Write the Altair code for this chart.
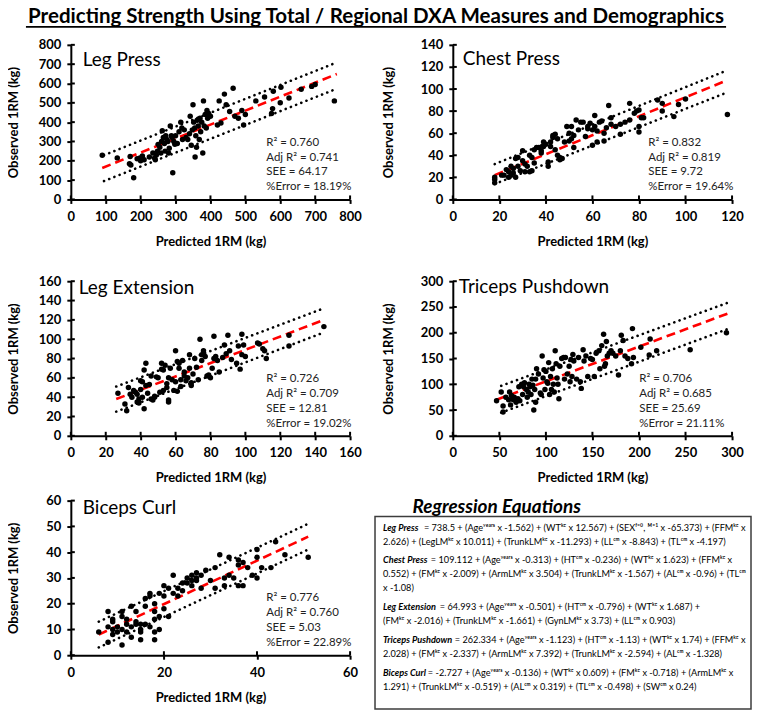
import altair as alt
import pandas as pd

FONT = "Lato"
TITLE = "Predicting Strength Using Total / Regional DXA Measures and Demographics"

# ---------------- Leg Press ----------------
lp_pred = [90,133,170,168,172,180,190,198,200,205,210,225,235,240,242,245,248,250,255,258,260,262,265,268,270,272,275,278,280,282,285,288,290,292,295,298,300,305,310,315,318,320,325,330,335,340,342,345,348,350,352,355,356,358,360,362,365,368,370,372,375,378,380,382,385,388,390,392,395,400,420,425,430,440,445,455,465,470,480,490,495,500,530,555,575,578,580,600,602,625,660,690,700,755]
lp_obs = [229,215,222,185,178,112,210,215,200,225,205,220,240,215,205,230,250,285,270,240,300,355,320,290,250,330,310,300,240,265,380,330,320,138,300,285,330,290,350,400,370,310,360,320,310,340,430,280,360,490,400,370,220,330,270,410,380,310,420,350,400,240,510,380,440,370,460,420,445,430,385,510,395,545,490,455,575,430,420,460,385,440,510,530,445,470,560,500,580,525,570,585,595,510]
lp_line_x = [90, 762]; lp_fit = [163, 649]
lp_band_x = [95, 762]; lp_up = [229, 709]; lp_lo = [95, 573]
lp_stats = ["R² = 0.760", "Adj R² = 0.741", "SEE = 64.17", "%Error = 18.19%"]

# ---------------- Chest Press ----------------
cp_pred = [18,18,18,21,22,23,24,24,25,25,26,26,27,27,28,28,29,30,30,31,31,32,33,33,34,34,35,35,36,37,38,38,39,39,40,41,41,42,42,43,43,44,44,45,45,46,46,47,48,49,50,50,51,51,52,52,53,54,55,56,57,58,58,59,60,60,61,61,62,62,63,64,65,65,66,67,68,68,70,72,72,74,76,76,78,79,80,80,80,81,82,88,90,90,95,97,100,118]
cp_obs = [15,18,20,22,22,27,20,25,30,22,28,24,20,37,38,30,26,44,35,25,32,30,40,25,38,26,45,33,47,47,44,42,52,48,50,34,30,48,52,56,58,59,45,40,55,36,38,37,52,66,60,53,66,55,58,47,72,63,70,70,57,66,64,69,63,49,76,66,62,52,70,71,53,60,65,85,74,68,66,68,59,70,87,72,78,80,81,66,61,74,74,90,87,80,75,86,91,77]
cp_line_x = [18, 118]; cp_fit = [22, 108]
cp_band_x = [18, 118]; cp_up = [32, 117]; cp_lo = [14, 97]
cp_stats = ["R² = 0.832", "Adj R² = 0.819", "SEE = 9.72", "%Error = 19.64%"]

# ---------------- Leg Extension ----------------
le_pred = [27,31,32,33,34,35,36,37,38,38,39,39,40,40,41,41,42,42,43,43,44,45,46,46,47,48,48,49,50,51,52,52,53,53,54,55,55,56,56,56,57,58,59,60,60,61,61,62,62,63,63,64,65,65,66,67,68,68,69,69,70,71,72,73,74,75,75,76,77,78,79,80,81,82,82,83,84,85,87,88,89,90,91,92,95,96,97,98,98,99,100,107,108,110,111,112,125,125,145]
le_obs = [44,33,26,50,43,40,47,45,35,43,38,34,48,57,40,56,68,28,52,75,44,53,62,38,37,41,40,61,60,45,75,69,68,47,73,54,50,60,35,37,70,58,47,88,56,77,46,70,75,58,51,78,62,66,57,60,84,70,55,52,64,80,71,58,100,84,78,88,82,62,63,60,70,103,80,82,78,66,81,94,85,104,88,79,75,93,69,105,84,94,82,96,95,90,88,80,93,104,113]
le_line_x = [26, 145]; le_fit = [38, 120]
le_band_x = [26, 145]; le_up = [51, 132]; le_lo = [25, 107]
le_stats = ["R² = 0.726", "Adj R² = 0.709", "SEE = 12.81", "%Error = 19.02%"]

# ---------------- Triceps Pushdown ----------------
tp_pred = [47,52,54,54,57,60,61,62,63,65,66,68,70,71,72,74,75,76,77,79,80,81,82,83,84,85,86,87,88,89,89,90,92,94,95,96,97,98,99,100,101,102,103,104,105,106,107,108,109,110,111,112,113,114,115,117,119,120,121,123,125,126,127,128,129,130,133,135,137,138,140,141,143,145,148,150,152,154,157,158,160,162,163,164,165,166,168,170,172,175,178,180,181,183,185,188,192,193,194,202,211,212,219,255,294]
tp_obs = [68,85,58,46,75,70,85,60,78,70,75,65,72,95,68,100,80,95,103,90,75,85,100,95,80,110,98,50,90,110,65,130,120,83,80,155,112,128,90,125,105,102,142,80,115,90,130,100,85,165,140,112,100,72,135,150,152,110,152,120,135,105,148,115,158,145,110,152,105,92,167,145,155,115,150,148,115,160,165,130,175,197,135,140,183,155,160,165,160,155,118,165,195,185,155,150,140,208,152,172,157,188,165,167,200]
tp_line_x = [47, 295]; tp_fit = [70, 237]
tp_band_x = [52, 295]; tp_up = [97, 258]; tp_lo = [45, 207]
tp_stats = ["R² = 0.706", "Adj R² = 0.685", "SEE = 25.69", "%Error = 21.11%"]

# ---------------- Biceps Curl ----------------
bc_pred = [6,8,8,8,9,9,9,9,10,10,11,11,11,11,12,12,12,13,13,13,14,14,14,15,15,15,15,16,16,16,17,17,17,18,18,18,18,18,19,19,19,20,20,20,21,21,22,22,23,23,24,24,25,25,26,26,26,27,27,27,28,28,29,30,31,31,32,33,33,34,34,35,36,36,36,37,37,38,39,40,40,40,41,43,44,46,51]
bc_obs = [9,5,11,17,10,8,13,14,11,9,10,17,15,4,9,12,14,7,11,19,13,12,17,6,10,12,9,22,19,12,11,24,23,17,20,14,9,6,24,15,10,27,23,18,15,26,31,24,23,26,28,25,30,28,31,29,27,32,29,30,31,26,33,29,34,26,39,27,30,38,31,30,27,35,37,36,27,34,31,41,38,30,34,34,44,39,38]
bc_line_x = [6, 51]; bc_fit = [8, 46]
bc_band_x = [6, 51]; bc_up = [13, 51]; bc_lo = [3, 41]
bc_stats = ["R² = 0.776", "Adj R² = 0.760", "SEE = 5.03", "%Error = 22.89%"]

# ---------------- Regression equations ----------------
YRS, KG, CM = "ʸᵉᵃʳˢ", "ᵏᵍ", "ᶜᵐ"
SEXS = "ᶠ⁼⁰, ᴹ⁼¹"
eq_names = ["Leg Press", "Chest Press", "Leg Extension", "Triceps Pushdown", "Biceps Curl"]
eq_lines = [
    [f"= 738.5 + (Age{YRS} x -1.562) + (WT{KG} x 12.567) + (SEX{SEXS} x -65.373) + (FFM{KG} x",
     f"2.626) + (LegLM{KG} x 10.011) + (TrunkLM{KG} x -11.293) + (LL{CM} x -8.843) + (TL{CM} x -4.197)"],
    [f"= 109.112 + (Age{YRS} x -0.313) + (HT{CM} x -0.236) + (WT{KG} x 1.623) + (FFM{KG} x",
     f"0.552) + (FM{KG} x -2.009) + (ArmLM{KG} x 3.504) + (TrunkLM{KG} x -1.567) + (AL{CM} x -0.96) + (TL{CM}",
     "x -1.08)"],
    [f"= 64.993 + (Age{YRS} x -0.501) + (HT{CM} x -0.796) + (WT{KG} x 1.687) +",
     f"(FM{KG} x -2.016) + (TrunkLM{KG} x -1.661) + (GynLM{KG} x 3.73) + (LL{CM} x 0.903)"],
    [f"= 262.334 + (Age{YRS} x -1.123) + (HT{CM} x -1.13) + (WT{KG} x 1.74) + (FFM{KG} x",
     f"2.028) + (FM{KG} x -2.337) + (ArmLM{KG} x 7.392) + (TrunkLM{KG} x -2.594) + (AL{CM} x -1.328)"],
    [f"= -2.727 + (Age{YRS} x -0.136) + (WT{KG} x 0.609) + (FM{KG} x -0.718) + (ArmLM{KG} x",
     f"1.291) + (TrunkLM{KG} x -0.519) + (AL{CM} x 0.319) + (TL{CM} x -0.498) + (SW{CM} x 0.24)"],
]
eq_name_w = [41, 48, 57, 72, 45]
EQ_FS = 9.2

W, H = 280, 155
EXTRA = 17  # row-2 offset inside a taller view
TK = 4      # tick half-length (ticks cross the axis line)


def panel(name, pred, obs, lx, fit, bx, up, lo, stats, xdom, xticks, ydom, yticks,
          name_xy, stats_x=196, off=0, ytx=-57, extra_layers=None):
    hh = H + off
    yscale = alt.Scale(domain=ydom, nice=False, zero=False, range=[hh, off])
    xscale = alt.Scale(domain=xdom, nice=False, zero=False)
    xaxis = alt.Axis(values=xticks, title="Predicted 1RM (kg)", titleX=W / 2, titleY=42,
                     titleBaseline="middle")
    yaxis = alt.Axis(values=yticks, title="Observed 1RM (kg)", titleX=ytx, titleY=off + H / 2,
                     titleBaseline="middle")
    X = lambda f="p": alt.X(f"{f}:Q", scale=xscale, axis=xaxis)
    Y = lambda f="o": alt.Y(f"{f}:Q", scale=yscale, axis=yaxis)
    pts = alt.Chart(pd.DataFrame({"p": pred, "o": obs})).mark_circle(
        size=30, color="black", opacity=1).encode(x=X(), y=Y())
    fit_df = pd.DataFrame({"p": lx, "o": fit})
    fitl = alt.Chart(fit_df).mark_line(color="#FF0000", strokeWidth=2.6, strokeDash=[9, 5]).encode(
        x=X(), y=Y())
    band_df = pd.DataFrame({"p": bx + bx, "o": up + lo, "b": ["u", "u", "l", "l"]})
    bands = alt.Chart(band_df).mark_line(color="black", strokeWidth=2.6, strokeDash=[0.1, 5.5],
                                         strokeCap="round").encode(x=X(), y=Y(), detail="b:N")
    # inner halves of the crossing tick marks
    xt = alt.Chart(pd.DataFrame({"p": xticks})).mark_rule(color="black", strokeWidth=2).encode(
        x=X(), y=alt.value(hh - TK), y2=alt.value(hh))
    yt = alt.Chart(pd.DataFrame({"o": yticks})).mark_rule(color="black", strokeWidth=2).encode(
        y=Y(), x=alt.value(0), x2=alt.value(TK))
    nm = alt.Chart(pd.DataFrame({"t": [name]})).mark_text(
        font=FONT, fontSize=19, align="left", baseline="middle", color="black").encode(
        text="t:N", x=alt.value(name_xy[0]), y=alt.value(name_xy[1] + off))
    st_df = pd.DataFrame({"t": stats, "yy": [98 + off, 113 + off, 128 + off, 143 + off]})
    st = alt.Chart(st_df).mark_text(font=FONT, fontSize=11.5, align="left", baseline="middle",
                                    color="#222222").encode(
        text="t:N", x=alt.value(stats_x), y=alt.Y("yy:Q", scale=None, axis=None))
    layers = [bands, fitl, pts, xt, yt, nm, st]
    if extra_layers:
        layers += extra_layers
    return alt.layer(*layers).properties(width=W, height=hh)


title_txt = alt.Chart(pd.DataFrame({"t": [TITLE]})).mark_text(
    font=FONT, fontSize=20.6, fontWeight="bold", align="center", baseline="middle", color="black").encode(
    text="t:N", x=alt.value(306), y=alt.value(-28))
title_rule = alt.Chart(pd.DataFrame({"a": [0]})).mark_rule(color="black", strokeWidth=1.6).encode(
    x=alt.value(-45), x2=alt.value(657), y=alt.value(-18))

lp = panel("Leg Press", lp_pred, lp_obs, lp_line_x, lp_fit, lp_band_x, lp_up, lp_lo, lp_stats,
           [0, 800], list(range(0, 801, 100)), [0, 800], list(range(0, 801, 100)), (12, 15),
           extra_layers=[title_rule, title_txt])
cp = panel("Chest Press", cp_pred, cp_obs, cp_line_x, cp_fit, cp_band_x, cp_up, cp_lo, cp_stats,
           [0, 120], list(range(0, 121, 20)), [0, 140], list(range(0, 141, 20)), (10, 14), ytx=-64)
le = panel("Leg Extension", le_pred, le_obs, le_line_x, le_fit, le_band_x, le_up, le_lo, le_stats,
           [0, 160], list(range(0, 161, 20)), [0, 160], list(range(0, 161, 20)), (8, 7), off=EXTRA)
tp = panel("Triceps Pushdown", tp_pred, tp_obs, tp_line_x, tp_fit, tp_band_x, tp_up, tp_lo, tp_stats,
           [0, 300], list(range(0, 301, 50)), [0, 300], list(range(0, 301, 50)), (6, 6),
           stats_x=187, off=EXTRA, ytx=-64)
bc = panel("Biceps Curl", bc_pred, bc_obs, bc_line_x, bc_fit, bc_band_x, bc_up, bc_lo, bc_stats,
           [0, 60], list(range(0, 61, 20)), [0, 60], list(range(0, 61, 10)), (12, 7))

# regression equations panel
rows = []
cur = 27
for i, lines in enumerate(eq_lines):
    for j, ln in enumerate(lines):
        rows.append({"tx": -70 + (eq_name_w[i] if j == 0 else 0), "ty": cur, "txt": ln, "k": "r"})
        if j == 0:
            rows.append({"tx": -70, "ty": cur, "txt": eq_names[i], "k": "n"})
        cur += 14
    cur += 5
eq_df = pd.DataFrame(rows)

box = alt.Chart(pd.DataFrame({"a": [0]})).mark_rect(
    fill="white", stroke="#3c3c3c", strokeWidth=1.5).encode(
    x=alt.value(-78), x2=alt.value(299), y=alt.value(16), y2=alt.value(209))
head = alt.Chart(pd.DataFrame({"t": ["Regression Equations"]})).mark_text(
    font=FONT, fontSize=19, fontWeight="bold", fontStyle="italic", align="center",
    baseline="middle", color="black").encode(text="t:N", x=alt.value(44), y=alt.value(6))
eq_rest = alt.Chart(eq_df).transform_filter(alt.datum.k == "r").mark_text(
    font=FONT, fontSize=EQ_FS, align="left", baseline="middle", color="black").encode(
    text="txt:N", x=alt.X("tx:Q", scale=None, axis=None), y=alt.Y("ty:Q", scale=None, axis=None))
eq_nm = alt.Chart(eq_df).transform_filter(alt.datum.k == "n").mark_text(
    font=FONT, fontSize=EQ_FS, fontWeight="bold", fontStyle="italic", align="left",
    baseline="middle", color="black").encode(
    text="txt:N", x=alt.X("tx:Q", scale=None, axis=None), y=alt.Y("ty:Q", scale=None, axis=None))
eqp = alt.layer(box, head, eq_rest, eq_nm).properties(width=W, height=H)

chart = alt.concat(lp, cp, le, tp, bc, eqp, columns=2,
                   spacing={"row": 65, "column": 103}, bounds="flush", align="each").properties(
    padding={"top": -2, "left": 0, "right": 0, "bottom": 0}
).resolve_scale(x="independent", y="independent").configure_view(stroke=None).configure_axis(
    domainColor="black", domainWidth=2, tickColor="black", tickWidth=2, tickSize=TK,
    labelFont=FONT, labelFontWeight="bold", labelFontSize=13, labelColor="black",
    titleFont=FONT, titleFontWeight="bold", titleFontSize=13, titleColor="black",
    grid=False, labelOverlap=False, labelFlush=False, labelPadding=6
).configure_axisX(labelPadding=7)

chart.save("out.html", embed_options={"renderer": "svg", "actions": False})
